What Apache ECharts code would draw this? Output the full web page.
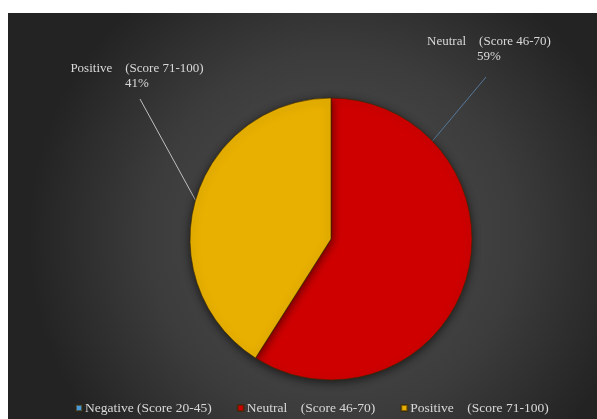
<!DOCTYPE html>
<html>
<head>
<meta charset="utf-8">
<script src="https://cdn.jsdelivr.net/npm/echarts@6/dist/echarts.min.js"></script>
<style>
  html, body { margin: 0; padding: 0; background: #fff; }
  #chart { width: 597px; height: 419px; }
</style>
</head>
<body>
<div id="chart"></div>
<script>
// data
const categories = ['Negative (Score 20-45)', 'Neutral    (Score 46-70)', 'Positive    (Score 71-100)']
const values = [0, 59, 41]
const colors = ['#4a9ad8', '#cf0000', '#e8b000']

// layout
const cx = 331, cy = 239, r = 141
const onCircle = deg => {
  const a = deg * Math.PI / 180
  return [cx + r * Math.sin(a), cy - r * Math.cos(a)]
}
const labelPos = {
  1: { x: 489, y: 34, line: [onCircle(46), [486, 77]] },
  2: { x: 137, y: 61, line: [onCircle(286), [140, 99]] }
}
const lineColors = ['#888', '#56789a', '#bfbfbf']

const chart = echarts.init(document.getElementById('chart'))

const option = {
  backgroundColor: '#fff',
  color: colors,
  graphic: [{
    type: 'rect',
    silent: true,
    z: -10,
    shape: { x: 8, y: 13, width: 589, height: 406 },
    style: {
      fill: new echarts.graphic.RadialGradient(0.55, 0.55, 0.75, [
        { offset: 0, color: '#505050' },
        { offset: 0.6, color: '#3c3c3c' },
        { offset: 1, color: '#232323' }
      ])
    }
  }],
  legend: {
    bottom: 4,
    left: 75,
    padding: 0,
    itemWidth: 6,
    itemHeight: 6,
    itemGap: 25,
    icon: 'rect',
    textStyle: { color: '#d9d9d9', fontFamily: 'Liberation Serif', fontSize: 13.5, padding: [0, 0, 0, -2] },
    data: categories
  },
  series: [{
    type: 'pie',
    center: [cx, cy],
    radius: r,
    startAngle: 90,
    clockwise: true,
    avoidLabelOverlap: false,
    itemStyle: {
      borderColor: 'rgba(60,40,0,0.6)',
      borderWidth: 1,
      shadowBlur: 10,
      shadowColor: 'rgba(0,0,0,0.6)',
      shadowOffsetY: 2
    },
    label: {
      formatter: '{b}\n{d}%',
      color: '#d9d9d9',
      fontFamily: 'Liberation Serif',
      fontSize: 13,
      lineHeight: 15,
      align: 'center'
    },
    labelLine: { show: true, lineStyle: { width: 1 } },
    labelLayout: params => {
      const p = labelPos[params.dataIndex]
      if (!p) return {}
      return { x: p.x, y: p.y, align: 'center', verticalAlign: 'top', labelLinePoints: p.line }
    },
    data: categories.map((name, i) => ({
      name,
      value: values[i],
      label: { show: values[i] > 0 },
      labelLine: { show: values[i] > 0, lineStyle: { color: lineColors[i] } }
    }))
  }]
}

chart.setOption(option)
</script>
</body>
</html>
